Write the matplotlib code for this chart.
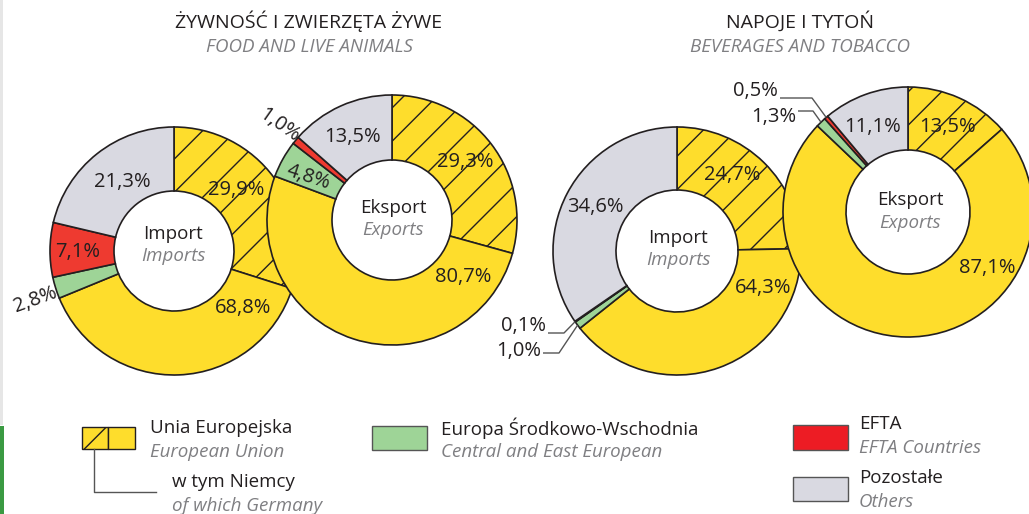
import numpy as np
import matplotlib.pyplot as plt
from matplotlib.patches import Rectangle

plt.rcParams['font.family'] = ['Open Sans', 'DejaVu Sans']
plt.rcParams['hatch.color'] = '#231F20'
plt.rcParams['hatch.linewidth'] = 1.0

# udziały w obrotach (%) - kolejno: żywność, napoje
ue_import = [68.8, 64.3]
niemcy_import = [29.9, 24.7]
esw_import = [2.8, 1.0]
efta_import = [7.1, 0.1]
pozostale_import = [21.3, 34.6]

ue_eksport = [80.7, 87.1]
niemcy_eksport = [29.3, 13.5]
esw_eksport = [4.8, 1.3]
efta_eksport = [1.0, 0.5]
pozostale_eksport = [13.5, 11.1]

tytuly = ['ŻYWNOŚĆ I ZWIERZĘTA ŻYWE', 'NAPOJE I TYTOŃ']
tytuly_en = ['FOOD AND LIVE ANIMALS', 'BEVERAGES AND TOBACCO']

ZOLTY = '#FEDD2C'
ZIELONY = '#9ED497'
CZERWONY = '#EE3A30'
SZARY = '#D9D9E1'
TEKST = '#231F20'
TEKST_EN = '#7F7F82'
kolory = [ZOLTY, ZOLTY, ZIELONY, CZERWONY, SZARY]
kreskowanie = ['/', '', '', '', '']

fig = plt.figure(figsize=(10.29, 5.14), dpi=100)
ax = fig.add_axes([0, 0, 1, 1])


def proc(v):
    return f'{v:.1f}%'.replace('.', ',')


def pierscien(cx, cy, r, r_wew, niemcy, ue, esw, efta, pozostale):
    wartosci = [niemcy, ue - niemcy, esw, efta, pozostale]
    # oś y odwrócona, więc counterclock=True rysuje zgodnie z ruchem wskazówek
    ax.pie(wartosci, colors=kolory, hatch=kreskowanie, startangle=-90,
           counterclock=True, center=(cx, cy), radius=r,
           wedgeprops=dict(width=r - r_wew, edgecolor=TEKST, linewidth=1.2))
    # punkty na zewnętrznym brzegu w połowie każdego wycinka
    kum = np.cumsum(wartosci)
    srodki = (kum - np.array(wartosci) / 2) / 100 * 2 * np.pi
    return [(cx + r * np.sin(a), cy - r * np.cos(a)) for a in srodki]


def podpis(x, y, tekst, rot=0, ha='center'):
    ax.text(x, y, tekst, ha=ha, va='center', fontsize=14.5, color=TEKST,
            rotation=rot)


def odnosnik(xy_tekst, x_lamania, xy_koniec):
    ax.plot([xy_tekst[0], x_lamania, xy_koniec[0]],
            [xy_tekst[1], xy_tekst[1], xy_koniec[1]],
            color='#555555', lw=1.0, solid_capstyle='butt')


def srodek(x, y, pl, en, dy1, dy2):
    ax.text(x, y + dy1, pl, ha='center', va='center', fontsize=13.5, color=TEKST)
    ax.text(x, y + dy2, en, ha='center', va='center', fontsize=13.5,
            color=TEKST_EN, style='italic')


# --- żywność i zwierzęta żywe ---
pierscien(174, 251, 124, 60, niemcy_import[0], ue_import[0], esw_import[0],
          efta_import[0], pozostale_import[0])
pierscien(392, 220, 125, 60, niemcy_eksport[0], ue_eksport[0], esw_eksport[0],
          efta_eksport[0], pozostale_eksport[0])

podpis(236, 190, proc(niemcy_import[0]))
podpis(243, 308, proc(ue_import[0]))
podpis(35, 300, proc(esw_import[0]), rot=20)
podpis(78, 252, proc(efta_import[0]))
podpis(122, 182, proc(pozostale_import[0]))
srodek(173, 251, 'Import', 'Imports', -17, 5)

podpis(465, 162, proc(niemcy_eksport[0]))
podpis(463, 277, proc(ue_eksport[0]))
podpis(308, 177, proc(esw_eksport[0]), rot=-18)
podpis(279, 125, proc(efta_eksport[0]), rot=-35)
podpis(352, 137, proc(pozostale_eksport[0]))
srodek(393, 220, 'Eksport', 'Exports', -12, 10)

# --- napoje i tytoń ---
pkt_imp = pierscien(677, 251, 124, 61, niemcy_import[1], ue_import[1],
                    esw_import[1], efta_import[1], pozostale_import[1])
pkt_eks = pierscien(908, 212, 125, 62, niemcy_eksport[1], ue_eksport[1],
                    esw_eksport[1], efta_eksport[1], pozostale_eksport[1])

podpis(732, 175, proc(niemcy_import[1]))
podpis(763, 288, proc(ue_import[1]))
podpis(595, 207, proc(pozostale_import[1]))
podpis(546, 326, proc(efta_import[1]), ha='right')
podpis(541, 351, proc(esw_import[1]), ha='right')
odnosnik((548, 333), 564, pkt_imp[3])
odnosnik((543, 353), 559, pkt_imp[2])
srodek(678, 251, 'Import', 'Imports', -13, 9)

podpis(947, 127, proc(niemcy_eksport[1]))
podpis(987, 268, proc(ue_eksport[1]))
podpis(873, 127, proc(pozostale_eksport[1]))
podpis(778, 91, proc(efta_eksport[1]), ha='right')
podpis(796, 117, proc(esw_eksport[1]), ha='right')
odnosnik((780, 98), 812, pkt_eks[3])
odnosnik((798, 111), 813, pkt_eks[2])
srodek(910, 212, 'Eksport', 'Exports', -12, 11)

# tytuły grup towarowych
for x, pl, en in zip([309, 800], tytuly, tytuly_en):
    ax.text(x, 21, pl, ha='center', va='center', fontsize=14, color=TEKST)
    ax.text(x, 47, en, ha='center', va='center', fontsize=13.5, color=TEKST_EN,
            style='italic')

# --- legenda ---
ax.add_patch(Rectangle((82, 427), 26, 22, facecolor=ZOLTY, edgecolor=TEKST,
                       lw=1.0, hatch='/'))
ax.add_patch(Rectangle((108, 427), 27, 22, facecolor=ZOLTY, edgecolor=TEKST,
                       lw=1.0))
ax.plot([94, 94, 156], [449, 492, 492], color='#555555', lw=1.0)
ax.add_patch(Rectangle((372, 426), 55, 24, facecolor=ZIELONY,
                       edgecolor='#555555', lw=1.0))
ax.add_patch(Rectangle((793, 425), 55, 25, facecolor='#ED1C24',
                       edgecolor='#555555', lw=1.0))
ax.add_patch(Rectangle((793, 477), 55, 24, facecolor=SZARY,
                       edgecolor='#555555', lw=1.0))

legenda = [
    (150, 428, 'Unia Europejska', 'European Union'),
    (172, 482, 'w tym Niemcy', 'of which Germany'),
    (441, 428, 'Europa Środkowo-Wschodnia', 'Central and East European'),
    (859, 424, 'EFTA', 'EFTA Countries'),
    (859, 478, 'Pozostałe', 'Others'),
]
for x, y, pl, en in legenda:
    ax.text(x, y, pl, ha='left', va='center', fontsize=13.5, color=TEKST)
    ax.text(x, y + 24, en, ha='left', va='center', fontsize=13.5,
            color=TEKST_EN, style='italic')

# pasek przy lewej krawędzi strony
ax.add_patch(Rectangle((0, 0), 3, 425, facecolor='#E6E6E6', lw=0))
ax.add_patch(Rectangle((0, 426), 4, 88, facecolor='#3A9A42', lw=0))

ax.set_xlim(0, 1029)
ax.set_ylim(514, 0)
ax.set_aspect('auto')
ax.axis('off')

fig.savefig('out.png', dpi=100)
